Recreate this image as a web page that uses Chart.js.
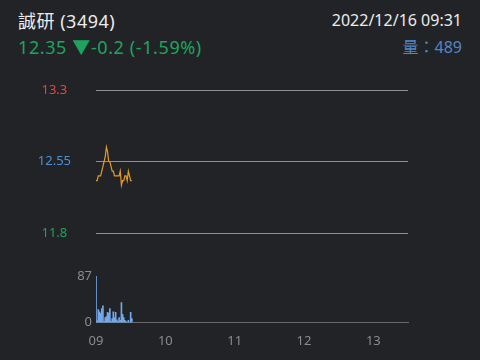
<!DOCTYPE html>
<html><head><meta charset="utf-8">
<script src="https://cdn.jsdelivr.net/npm/chart.js@4"></script>
<style>
html,body{margin:0;padding:0;background:#222326;width:480px;height:360px;overflow:hidden;font-family:"Noto Sans","Noto Sans CJK TC",sans-serif;}
.t{position:absolute;white-space:nowrap;line-height:1;}
.cv{position:absolute;left:0;width:480px;}
</style></head><body>
<div class="t" id="name" style="left:18px;top:12px;font-size:18px;letter-spacing:0.5px;color:#ececec;"></div>
<div class="t" id="quote" style="left:18px;top:38px;font-size:18px;letter-spacing:0.6px;color:#1ea35e;"></div>
<div class="t" id="dt" style="right:18px;top:12px;font-size:16px;color:#ececec;"></div>
<div class="t" id="vol" style="right:18px;top:39px;font-size:16px;color:#5287c9;"></div>
<div class="cv" style="top:70px;height:180px"><canvas id="pc"></canvas></div>
<div class="cv" style="top:258px;height:102px"><canvas id="vc"></canvas></div>
<script>
const stockName = '誠研';
const stockCode = '3494';
const lastPrice = '12.35';
const changeText = '▼-0.2 (-1.59%)';
const dateTime = '2022/12/16 09:31';
const totalVolume = 489;
const refPrice = 12.55;

const minutes = [0,1,2,3,4,5,6,7,8,9,10,11,12,13,14,15,16,17,18,19,20,21,22,23,24,25,26,27,28,29,30,31];
const prices = [12.35,12.35,12.40,12.40,12.40,12.45,12.50,12.55,12.60,12.70,12.65,12.55,12.55,12.50,12.45,12.45,12.40,12.40,12.40,12.40,12.40,12.45,12.30,12.35,12.35,12.40,12.40,12.35,12.45,12.40,12.35,12.35];
const volumes = [87,3,24,20,17,26,31,2,9,11,19,17,26,2,7,20,9,19,5,2,9,4,37,15,9,4,2,0,4,0,19,7];

const priceTicks = [13.3, 12.55, 11.8];
const volumeTicks = [0, 87];
const timeTicks = [0, 60, 120, 180, 240];
const timeLabels = ['09', '10', '11', '12', '13'];
const sessionMinutes = 270;

document.getElementById('name').textContent = stockName + ' (' + stockCode + ')';
document.getElementById('quote').textContent = lastPrice + ' ' + changeText;
document.getElementById('dt').textContent = dateTime;
document.getElementById('vol').textContent = '量：' + totalVolume;

const FONT = '"Noto Sans","Noto Sans CJK TC",sans-serif';
Chart.defaults.font.family = FONT;

new Chart(document.getElementById('pc'), {
  type: 'line',
  data: { datasets: [{
    data: minutes.map((m, i) => ({x: m, y: prices[i]})),
    borderColor: '#e39a28', borderWidth: 1.2, pointRadius: 0, tension: 0
  }]},
  options: {
    responsive: true, maintainAspectRatio: false, animation: false,
    plugins: {legend: {display: false}, tooltip: {enabled: false}},
    layout: {padding: {top: 20, bottom: 17, right: 72, left: 0}},
    scales: {
      x: {type: 'linear', min: 0, max: sessionMinutes, display: false},
      y: {
        min: priceTicks[2], max: priceTicks[0],
        afterBuildTicks: s => { s.ticks = priceTicks.map(v => ({value: v})); },
        afterFit: s => { s.width = 96; },
        border: {display: false},
        grid: {color: '#8f8f8f', drawTicks: true, tickLength: 25, tickColor: 'rgba(0,0,0,0)', lineWidth: 1},
        ticks: {
          crossAlign: 'center', padding: 0,
          font: {size: 13},
          color: c => c.tick.value > refPrice + 1e-9 ? '#e5463b' : (c.tick.value < refPrice - 1e-9 ? '#1ea35e' : '#4f8fd8'),
          callback: v => String(v)
        }
      }
    }
  }
});

new Chart(document.getElementById('vc'), {
  type: 'bar',
  data: { datasets: [{
    data: minutes.map((m, i) => ({x: m, y: volumes[i]})),
    backgroundColor: '#72a9ea', barThickness: 1
  }]},
  options: {
    responsive: true, maintainAspectRatio: false, animation: false,
    plugins: {legend: {display: false}, tooltip: {enabled: false}},
    layout: {padding: {top: 18, bottom: 0, right: 72, left: 0}},
    scales: {
      x: {
        type: 'linear', min: 0, max: sessionMinutes, offset: false,
        afterBuildTicks: s => { s.ticks = timeTicks.map(v => ({value: v})); },
        grid: {display: false, drawTicks: false, offset: false},
        border: {display: true, color: '#6a6a6a'},
        ticks: {
          padding: 11, maxRotation: 0, autoSkip: false, color: '#8b8b8b', font: {size: 13},
          callback: v => timeLabels[timeTicks.indexOf(v)]
        }
      },
      y: {
        min: 0, max: volumeTicks[1],
        afterBuildTicks: s => { s.ticks = volumeTicks.map(v => ({value: v})); },
        afterFit: s => { s.width = 96; },
        border: {display: false},
        grid: {display: false, drawTicks: false},
        ticks: {padding: 4, color: '#8b8b8b', font: {size: 13}}
      }
    }
  }
});
</script>
</body></html>
